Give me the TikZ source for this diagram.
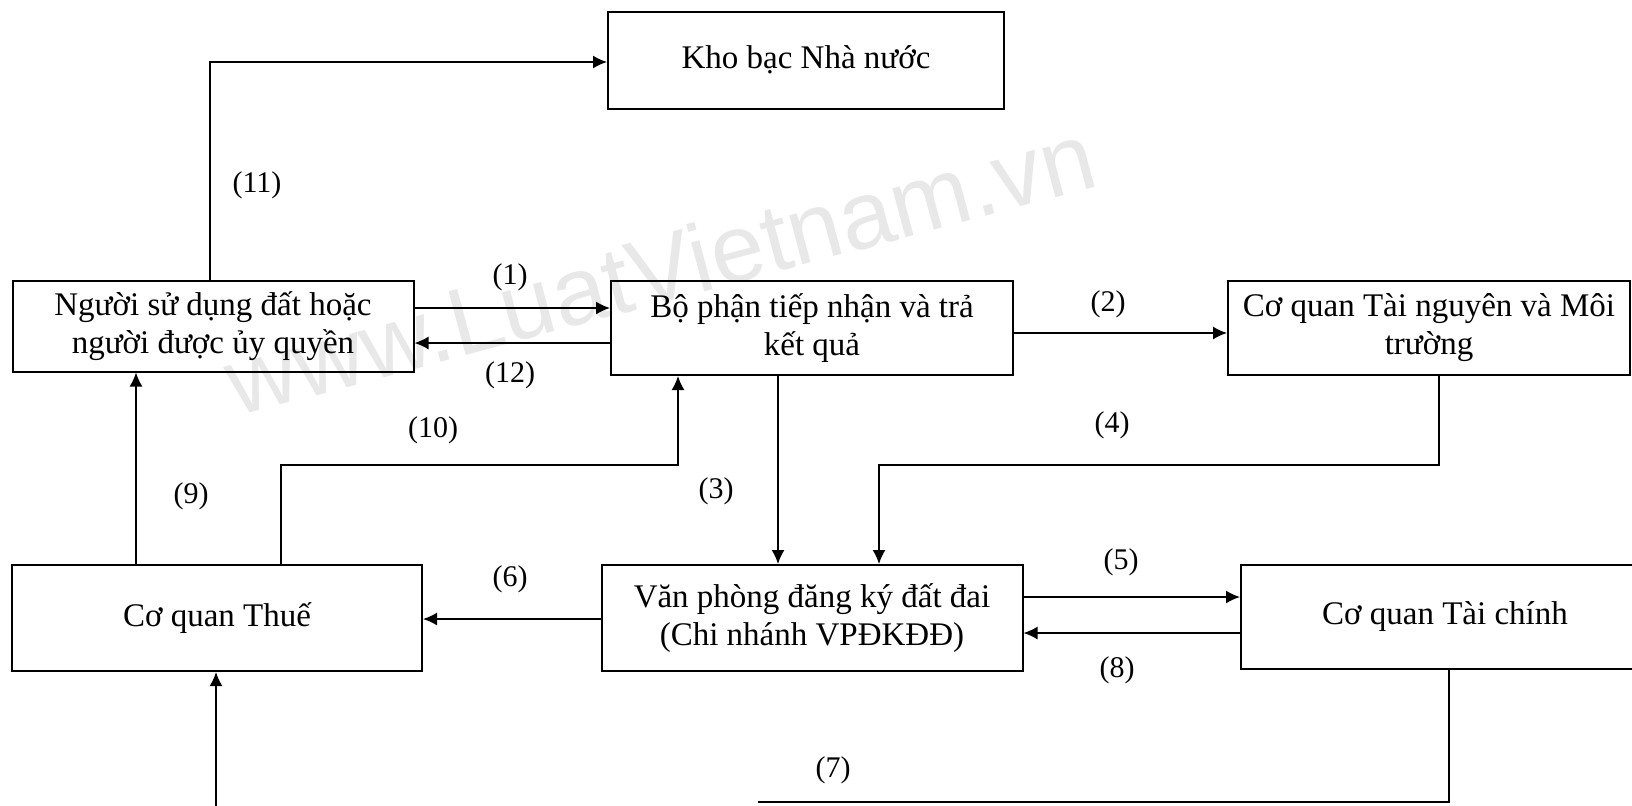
\documentclass[tikz,border=0pt]{standalone}
\usepackage{fontspec}
\setmainfont{Liberation Serif}
\newfontfamily\wmfont{Liberation Sans}
\usetikzlibrary{arrows.meta,calc}
\tikzset{
  box/.style={draw, line width=1pt, align=center, inner sep=0pt,
    font=\fontsize{16.5}{19}\selectfont},
  arr/.style={draw, line width=0.8pt, -{Latex[length=7pt,width=6.5pt]}},
  ln/.style={draw, line width=0.8pt},
  lbl/.style={font=\fontsize{15}{17}\selectfont, inner sep=0pt},
  wm/.style={font=\wmfont\fontsize{48}{50}\selectfont, text=black!9, inner sep=0pt}
}
\begin{document}
\begin{tikzpicture}[x=0.5pt,y=-0.5pt]
\useasboundingbox (0,0) rectangle (1632,805);
% watermark
\node[wm, rotate=15] (wmk) at (660,268) {www.LuatVietnam.vn};
% boxes
\node[box, minimum width=198pt, minimum height=48.5pt] (kb) at (806,60) {Kho bạc Nhà nước};
\node[box, minimum width=200.5pt, minimum height=45.5pt] (nsd) at (213,326) {Người sử dụng đất hoặc\\người được ủy quyền};
\node[box, minimum width=201pt, minimum height=47pt] (bp) at (812,328) {Bộ phận tiếp nhận và trả\\kết quả};
\node[box, minimum width=201pt, minimum height=47pt] (tn) at (1429,328) {Cơ quan Tài nguyên và Môi\\trường};
\node[box, minimum width=205pt, minimum height=53pt] (thue) at (217,618) {Cơ quan Thuế};
\node[box, minimum width=210.5pt, minimum height=53pt] (vp) at (812,618) {Văn phòng đăng ký đất đai\\(Chi nhánh VPĐKĐĐ)};
\node[box, minimum width=204pt, minimum height=52pt] (tc) at (1445,617) {Cơ quan Tài chính};
% helper coordinates
\coordinate (c11) at (210,62);
\coordinate (y1) at (0,308);
\coordinate (y12) at (0,343);
\coordinate (y2) at (0,333);
\coordinate (c4a) at (1439,465);
\coordinate (c4b) at (879,465);
\coordinate (x3) at (778,0);
\coordinate (c10a) at (281,465);
\coordinate (c10b) at (678,465);
\coordinate (x9) at (136,0);
\coordinate (y6) at (0,619);
\coordinate (y5) at (0,597);
\coordinate (y8) at (0,633);
\coordinate (c7a) at (1449,802);
\coordinate (c7b) at (758,802);
\coordinate (c7c) at (216,812);
% connectors
\draw[arr] (nsd.north -| c11) -- (c11) -- (kb.west |- c11);
\draw[arr] (nsd.east |- y1) -- (bp.west |- y1);
\draw[arr] (bp.west |- y12) -- (nsd.east |- y12);
\draw[arr] (bp.east |- y2) -- (tn.west |- y2);
\draw[arr] (tn.south -| c4a) -- (c4a) -- (c4b) -- (vp.north -| c4b);
\draw[arr] (bp.south -| x3) -- (vp.north -| x3);
\draw[arr] (thue.north -| c10a) -- (c10a) -- (c10b) -- (bp.south -| c10b);
\draw[arr] (thue.north -| x9) -- (nsd.south -| x9);
\draw[arr] (vp.west |- y6) -- (thue.east |- y6);
\draw[arr] (vp.east |- y5) -- (tc.west |- y5);
\draw[arr] (tc.west |- y8) -- (vp.east |- y8);
\draw[ln] (tc.south -| c7a) -- (c7a) -- (c7b);
\draw[arr] (c7c) -- (thue.south -| c7c);
% labels
\node[lbl] (l11) at (257,185) {(11)};
\node[lbl] (l1) at (510,277) {(1)};
\node[lbl] (l12) at (510,375) {(12)};
\node[lbl] (l2) at (1108,304) {(2)};
\node[lbl] (l4) at (1112,425) {(4)};
\node[lbl] (l3) at (716,491) {(3)};
\node[lbl] (l10) at (433,430) {(10)};
\node[lbl] (l9) at (191,496) {(9)};
\node[lbl] (l6) at (510,579) {(6)};
\node[lbl] (l5) at (1121,562) {(5)};
\node[lbl] (l8) at (1117,670) {(8)};
\node[lbl] (l7) at (833,770) {(7)};
\end{tikzpicture}
\end{document}
